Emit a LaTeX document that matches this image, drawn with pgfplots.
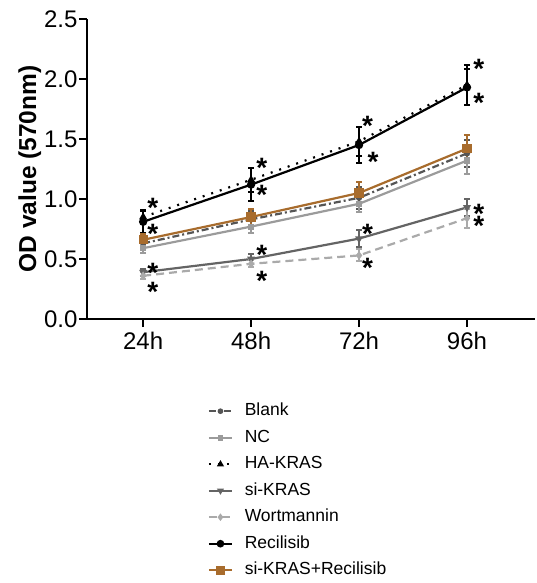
\documentclass[border=0pt]{standalone}
\usepackage{pgfplots}
\pgfplotsset{compat=1.18}
\usepackage{fontspec}
\setmainfont{Liberation Sans}
\definecolor{cblank}{RGB}{85,85,85}
\definecolor{cnc}{RGB}{155,155,155}
\definecolor{csik}{RGB}{100,100,100}
\definecolor{cwort}{RGB}{170,170,170}
\definecolor{cbrown}{RGB}{168,108,45}

\begin{document}
\begin{tikzpicture}
\path[use as bounding box] (-87pt,-264pt) rectangle (450pt,319pt);
\begin{axis}[
  scale only axis,
  width=448pt, height=300pt,
  xmin=-0.52, xmax=3.63,
  ymin=0, ymax=2.5,
  axis lines=left,
  axis line style={line width=2.6pt, -},
  every tick/.style={black, line width=2.4pt},
  tick align=outside,
  major tick length=8pt,
  xtick={0,1,2,3},
  xticklabels={24h,48h,72h,96h},
  ytick={0,0.5,1,1.5,2,2.5},
  yticklabel style={/pgf/number format/fixed, /pgf/number format/fixed zerofill,
    /pgf/number format/precision=1, xshift=2pt},
  /pgf/number format/assume math mode=true,
  tick label style={font=\fontsize{24}{28}\selectfont},
  xticklabel style={yshift=-2pt},
  ylabel={\bfseries OD value (570nm)},
  ylabel style={font=\fontsize{24.5}{28}\selectfont, yshift=-4pt},
  every axis plot/.append style={line width=2.2pt},
  error bars/y dir=both,
  error bars/y explicit,
  error bars/error bar style={line width=2pt, solid},
  error bars/error mark options={rotate=90, mark size=3pt, line width=2pt},
  legend cell align=left,
  legend style={at={(axis description cs:0.27,-0.275)}, anchor=north west,
    draw=none, fill=none, font=\fontsize{17.5}{20}\selectfont,
    row sep=7.5pt, column sep=11pt, inner sep=0pt,
    nodes={inner sep=1pt, text height=13pt, text depth=4pt}},
  legend image code/.code={\draw[mark repeat=2, mark phase=2, line width=1.6pt]
    plot coordinates {(0pt,0pt)(11.5pt,0pt)(23pt,0pt)};},
]
\addplot[color=cblank, dash pattern=on 7pt off 3pt on 2pt off 3pt, mark=*, mark size=2pt, mark options={solid}]
  coordinates {(0,0.63) +- (0,0.05) (1,0.83) +- (0,0.07) (2,1.01) +- (0,0.09) (3,1.38) +- (0,0.11)};
\addlegendentry{Blank}
\addplot[color=cnc, solid, mark=square*, mark size=2pt]
  coordinates {(0,0.59) +- (0,0.04) (1,0.77) +- (0,0.05) (2,0.96) +- (0,0.07) (3,1.32) +- (0,0.11)};
\addlegendentry{NC}
\addplot[color=black, dash pattern=on 2pt off 7pt, mark=triangle*, mark size=2.5pt, mark options={solid}]
  coordinates {(0,0.85) +- (0,0.06) (1,1.16) +- (0,0.10) (2,1.48) +- (0,0.12) (3,1.95) +- (0,0.17)};
\addlegendentry{HA-KRAS}
\addplot[color=csik, solid, mark=triangle*, mark size=2.5pt, mark options={rotate=180}]
  coordinates {(0,0.39) +- (0,0.03) (1,0.50) +- (0,0.04) (2,0.67) +- (0,0.07) (3,0.93) +- (0,0.07)};
\addlegendentry{si-KRAS}
\addplot[color=cwort, dash pattern=on 8pt off 5pt, mark=diamond*, mark size=2.5pt, mark options={solid}]
  coordinates {(0,0.36) +- (0,0.03) (1,0.46) +- (0,0.03) (2,0.53) +- (0,0.05) (3,0.84) +- (0,0.08)};
\addlegendentry{Wortmannin}
\addplot[color=black, solid, mark=*, mark size=3pt]
  coordinates {(0,0.81) +- (0,0.09) (1,1.12) +- (0,0.14) (2,1.45) +- (0,0.15) (3,1.93) +- (0,0.15)};
\addlegendentry{Recilisib}
\addplot[color=cbrown, solid, mark=square*, mark size=3.5pt]
  coordinates {(0,0.66) +- (0,0.05) (1,0.85) +- (0,0.07) (2,1.05) +- (0,0.09) (3,1.42) +- (0,0.11)};
\addlegendentry{si-KRAS+Recilisib}
\addplot[draw=none, mark=none, forget plot,
  nodes near coords={*},
  every node near coord/.style={anchor=base, yshift=-16pt, inner sep=0pt, black,
    font=\fontsize{28}{32}\bfseries}]
  coordinates {(0.09,0.98) (0.09,0.76) (0.09,0.44) (0.09,0.28)
    (1.1,1.31) (1.1,1.09) (1.1,0.59) (1.1,0.37)
    (2.08,1.66) (2.13,1.36) (2.08,0.76) (2.08,0.48)
    (3.11,2.14) (3.11,1.85) (3.11,0.93) (3.11,0.83)};
\end{axis}
\end{tikzpicture}
\end{document}
